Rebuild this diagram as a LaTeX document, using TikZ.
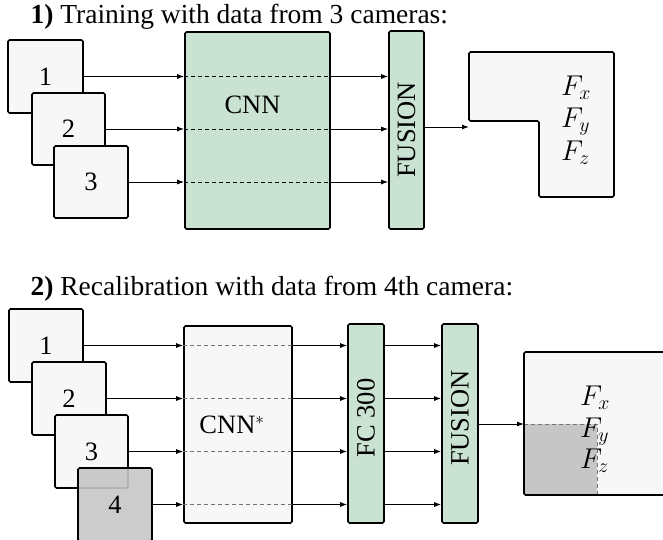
\documentclass[tikz,border=0pt]{standalone}
\usepackage{fontspec}
\setmainfont{Liberation Serif}
\usetikzlibrary{arrows.meta}
\definecolor{cnngreen}{RGB}{201,226,210}
\definecolor{boxgray}{RGB}{247,247,247}
\definecolor{darkfill}{RGB}{198,198,198}
\begin{document}
\begin{tikzpicture}[x=1pt,y=-1pt,
  every node/.style={font=\fontsize{26.5}{30}\selectfont},
  title/.style={anchor=base west, font=\fontsize{27.5}{32}\selectfont},
  frame/.style={draw=black, line width=1.6pt, rounded corners=1.5pt, fill=boxgray, inner sep=0pt},
  layer/.style={frame, fill=cnngreen},
  conn/.style={line width=1pt, -{Latex[length=7pt,width=5pt]}},
  dashline/.style={line width=0.8pt, dash pattern=on 4pt off 3pt},
  graydash/.style={dashline, draw=black!55},
  flabel/.style={anchor=base west, inner sep=0pt, scale=1.15}]
\useasboundingbox (0,0) rectangle (663,539);

% ---------- Part 1 ----------
\node[title] (t1) at (27,23) {\textbf{1)} Training with data from 3 cameras:};

\node[frame, minimum width=75pt, minimum height=73pt] (a1) at (45.5,76.5) {1};
\node[frame, minimum width=73pt, minimum height=72pt] (a2) at (68.5,129) {2};
\node[frame, minimum width=74pt, minimum height=72pt] (a3) at (91,182) {3};

\node[layer, minimum width=145pt, minimum height=197pt] (cnn) at (257.5,130.5) {};
\node (cnnlab) at (252.5,105) {CNN};
\node[layer, minimum width=35pt, minimum height=198pt] (fus) at (406.5,130) {};
\node[rotate=90] (fuslab) at (fus.center) {FUSION};

\foreach \b in {a1,a2,a3}{
  \draw[conn] (\b.east) -- (\b.east -| cnn.west);
  \draw[dashline] (\b.east -| cnn.west) -- (\b.east -| cnn.east);
  \draw[conn] (\b.east -| cnn.east) -- (\b.east -| fus.west);
}

\coordinate (outin) at (469,127);
\draw[conn] (fus.east |- outin) -- (outin);
\draw[frame] (469,52) -- (614,52) -- (614,197) -- (539,197) -- (539,121) -- (469,121) -- cycle;
\node[flabel] (fx1) at (561,95) {$F_x$};
\node[flabel] (fy1) at (561,127) {$F_y$};
\node[flabel] (fz1) at (561,160) {$F_z$};

% ---------- Part 2 ----------
\node[title] (t2) at (27,295) {\textbf{2)} Recalibration with data from 4th camera:};

\node[frame, minimum width=74pt, minimum height=73pt] (b1) at (46,345.5) {1};
\node[frame, minimum width=74pt, minimum height=73pt] (b2) at (69,398.5) {2};
\node[frame, minimum width=73pt, minimum height=73pt] (b3) at (91.5,451.5) {3};
\node[frame, fill=darkfill, fill opacity=0.9, text opacity=1, minimum width=74pt, minimum height=73pt] (b4) at (115,504.5) {4};

\node[frame, minimum width=108pt, minimum height=197pt] (cnn2) at (238,424.5) {};
\node (cnn2lab) at (232,425) {CNN$^*$};
\node[layer, minimum width=36pt, minimum height=199pt] (fc) at (366,423.5) {};
\node[rotate=90] (fclab) at (366,418) {FC 300};
\node[layer, minimum width=36pt, minimum height=199pt] (fus2) at (460,423.5) {};
\node[rotate=90] (fus2lab) at (460,418) {FUSION};

\foreach \b in {b1,b2,b3,b4}{
  \draw[conn] (\b.east) -- (\b.east -| cnn2.west);
  \draw[graydash] (\b.east -| cnn2.west) -- (\b.east -| cnn2.east);
  \draw[conn] (\b.east -| cnn2.east) -- (\b.east -| fc.west);
  \draw[conn] (\b.east -| fc.east) -- (\b.east -| fus2.west);
}

\coordinate (outin2) at (524,424);
\fill[boxgray] (524,352) rectangle (700,495);
\fill[darkfill] (524,424) rectangle (597,495);
\draw[graydash] (524,424) -- (597,424) -- (597,495);
\draw[line width=1.6pt, rounded corners=1.5pt] (524,352) rectangle (700,495);
\draw[conn] (fus2.east |- outin2) -- (outin2);
\node[flabel] (fx2) at (580,405) {$F_x$};
\node[flabel] (fy2) at (580,437) {$F_y$};
\node[flabel] (fz2) at (580,468) {$F_z$};
\end{tikzpicture}
\end{document}
